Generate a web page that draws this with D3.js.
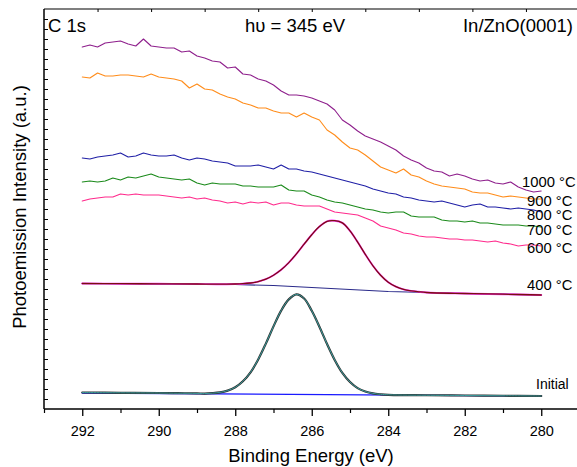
<!DOCTYPE html>
<html><head><meta charset="utf-8">
<script src="https://cdn.jsdelivr.net/npm/d3@7"></script>
<style>
body{margin:0;background:#fff}
svg{display:block}
text{font-family:"Liberation Sans",Arial,sans-serif;fill:#000}
</style>
</head><body>
<svg id="chart" width="577" height="467"></svg>
<script>
// ---------- DATA ----------
const energyGrid = [292.0,291.8,291.6,291.4,291.2,291.0,290.8,290.6,290.4,290.2,290.0,289.8,289.6,289.4,289.2,289.0,288.8,288.6,288.4,288.2,288.0,287.8,287.6,287.4,287.2,287.0,286.8,286.6,286.4,286.2,286.0,285.8,285.6,285.4,285.2,285.0,284.8,284.6,284.4,284.2,284.0,283.8,283.6,283.4,283.2,283.0,282.8,282.6,282.4,282.2,282.0,281.8,281.6,281.4,281.2,281.0,280.8,280.6,280.4,280.2,280.0];

const int1000 = [362,364,362,366,367,368,365,363,370,363,362,361,361,357,358,353,351,348,347,341,342,335,334,330,328,324,318,314,314,313,311,308,305,299,289,284,278,273,270,267,263,259,253,249,246,241,238,237,233,235,233,230,228,229,226,225,227,222,219,217,218];
const int900 = [332,331,336,333,333,334,334,333,332,335,332,331,330,328,321,325,320,319,315,312,310,306,304,301,301,298,296,296,292,296,292,289,279,274,267,261,259,254,248,242,239,236,240,234,232,228,225,223,222,221,220,217,216,216,214,212,213,212,211,210,210];
const int800 = [251,250,252,253,254,256,252,253,256,254,253,253,254,251,249,251,250,248,247,246,243,243,243,244,242,240,244,240,240,238,237,235,233,231,229,227,225,223,220,218,216,215,212,211,209,208,207,208,206,204,202,204,205,202,202,201,200,201,200,199,197];
const int700 = [227,228,227,228,231,229,232,231,233,235,232,231,230,229,230,226,224,226,225,225,225,223,223,222,222,222,224,219,218,218,214,212,209,207,206,204,202,200,199,197,196,197,197,193,192,192,192,189,188,188,187,188,186,186,185,184,184,184,183,183,182];
const int600 = [208,210,211,212,212,215,214,215,214,214,214,213,212,211,212,210,211,209,208,206,207,205,207,206,207,204,206,206,204,203,203,203,200,197,196,195,194,191,188,183,181,179,176,175,173,172,172,171,170,170,169,169,168,167,168,166,165,163,164,164,163];

const energy400 = [292,291,290,289,288.5,288.0,287.8,287.6,287.4,287.2,287.0,286.8,286.6,286.4,286.2,286.0,285.8,285.6,285.4,285.2,285.0,284.8,284.6,284.4,284.2,284.0,283.8,283.6,283.4,283.2,283.0,282,281,280];
const int400 = [125.5,125.3,125.2,125.0,124.8,125.0,125.3,126.0,127.4,129.9,133.8,139.2,146.4,155.1,164.8,174.3,182.4,187.7,188.3,186.1,178.1,166.9,154.6,143.2,133.8,126.8,122.4,119.6,118.1,117.2,116.5,115.5,114.8,114];
const energyBg400 = [292,288,287,286,285,284,283,282,281,280];
const bg400 = [125.5,124.5,123.5,121.5,119.5,117.5,116.5,115.5,114.8,114];

const energyInit = [292,291,290,289.5,289,288.8,288.6,288.4,288.2,288.0,287.8,287.6,287.4,287.2,287.0,286.8,286.6,286.4,286.2,286.0,285.8,285.6,285.4,285.2,285.0,284.8,284.6,284.4,284.2,284.0,283.5,283,282,281,280];
const intInit = [16.5,16.2,16,15.8,15.6,15.4,15.8,16.6,18.4,21.7,27.7,36.7,49.6,65.4,82.6,98.4,109.6,114.6,110.5,98.2,82.3,65.0,49.1,36.1,27.0,20.9,17.5,15.6,14.7,14.2,13.9,13.75,13.5,13.25,13];
const energyBgInit = [292,280];
const bgInit = [16,13];

const seriesLabels = ["1000 °C","900 °C","800 °C","700 °C","600 °C","400 °C","Initial"];
const majorTicks = [292,290,288,286,284,282,280];
const minorTicks = [293,291,289,287,285,283,281];

// ---------- LAYOUT ----------
const W = 577, H = 467;
const pLeft = 44, pTop = 9, pBottom = 409, pRight = 579.5;
const svg = d3.select("#chart");

const x = d3.scaleLinear().domain([293, 279]).range([pLeft, pRight]);
const y = d3.scaleLinear().domain([0, 400]).range([pBottom, pTop]);

const zip = (xs, ys) => xs.map((e, i) => [e, ys[i]]);
const line = d3.line().x(d => x(d[0])).y(d => y(d[1]));
const smooth = d3.line().x(d => x(d[0])).y(d => y(d[1])).curve(d3.curveCatmullRom.alpha(0.5));

function path(data, gen, color, width) {
  svg.append("path").datum(data).attr("d", gen).attr("fill", "none")
    .attr("stroke", color).attr("stroke-width", width)
    .attr("stroke-linejoin", "round").attr("stroke-linecap", "round");
}

// noisy series
path(zip(energyGrid, int1000), line, "#8e1f8c", 1.1);
path(zip(energyGrid, int900), line, "#ff8c1a", 1.1);
path(zip(energyGrid, int800), line, "#1f1fa6", 1.1);
path(zip(energyGrid, int700), line, "#1b8a1b", 1.1);
path(zip(energyGrid, int600), line, "#ff2a8c", 1.1);

// 400 C
path(zip(energyBg400, bg400), line, "#2a2a8a", 1.2);
path(zip(energy400, int400), smooth, "#ff33ff", 1.9);
path(zip(energy400, int400), smooth, "#7a1010", 1.3);

// Initial
path(zip(energyBgInit, bgInit), line, "#1a1aff", 1.3);
path(zip(energyInit, intInit), smooth, "#2e2e2e", 2.2);
path(zip(energyInit, intInit), smooth, "#3a9c9c", 1.0);

// ---------- AXES ----------
const axG = svg.append("g");
axG.append("line").attr("x1", pLeft).attr("x2", W).attr("y1", pBottom).attr("y2", pBottom)
  .attr("stroke", "#000").attr("stroke-width", 1.5);
axG.append("line").attr("x1", pLeft).attr("x2", W).attr("y1", pTop).attr("y2", pTop)
  .attr("stroke", "#000").attr("stroke-width", 1.2);
axG.append("line").attr("x1", pLeft).attr("x2", pLeft).attr("y1", pTop).attr("y2", pBottom)
  .attr("stroke", "#000").attr("stroke-width", 1.5);

const xAxis = d3.axisBottom(x).tickValues(majorTicks).tickSize(7).tickPadding(10)
  .tickFormat(d3.format("d"));
const gx = svg.append("g").attr("transform", `translate(0,${pBottom})`).call(xAxis);
gx.select(".domain").remove();
gx.selectAll("line").attr("stroke-width", 1.3);
gx.selectAll("text").attr("font-size", "14.5px").attr("font-family", "Liberation Sans, Arial, sans-serif").attr("fill", "#000");

const xMinor = d3.axisBottom(x).tickValues(minorTicks).tickSize(4).tickFormat("");
const gm = svg.append("g").attr("transform", `translate(0,${pBottom})`).call(xMinor);
gm.select(".domain").remove();
gm.selectAll("line").attr("stroke-width", 1.2);

// top ticks (10 equal divisions)
const topScale = d3.scaleLinear().domain([0, 10]).range([pLeft, pRight]);
const gt = svg.append("g").attr("transform", `translate(0,${pTop})`)
  .call(d3.axisTop(topScale).tickValues(d3.range(1, 10)).tickSize(-3).tickFormat(""));
gt.select(".domain").remove();

// left ticks
const leftScale = d3.scaleLinear().domain([0, 40]).range([pBottom, pTop]);
const gl = svg.append("g").attr("transform", `translate(${pLeft},0)`)
  .call(d3.axisRight(leftScale).tickValues(d3.range(1, 40)).tickSize(4).tickFormat(""));
gl.select(".domain").remove();

// ---------- TEXT ----------
svg.append("text").attr("x", 48).attr("y", 32).attr("font-size", "18.5px").text("C 1s");
svg.append("text").attr("x", 245).attr("y", 32).attr("font-size", "18.5px").text("h\u03C5 = 345 eV");
svg.append("text").attr("x", 573).attr("y", 32).attr("font-size", "18.5px")
  .attr("text-anchor", "end").text("In/ZnO(0001)");

svg.append("text").attr("x", 311).attr("y", 462).attr("font-size", "18.5px")
  .attr("text-anchor", "middle").text("Binding Energy (eV)");
svg.append("text").attr("transform", "translate(26,207) rotate(-90)")
  .attr("font-size", "18.5px").attr("text-anchor", "middle")
  .text("Photoemission Intensity (a.u.)");

const labelPos = [[522,187],[527,206],[527,220],[527,235],[527,253],[527,290],[536,389]];
seriesLabels.forEach((t, i) => {
  svg.append("text").attr("x", labelPos[i][0]).attr("y", labelPos[i][1])
    .attr("font-size", i === 6 ? "14px" : "14.8px").text(t);
});
</script>
</body></html>
